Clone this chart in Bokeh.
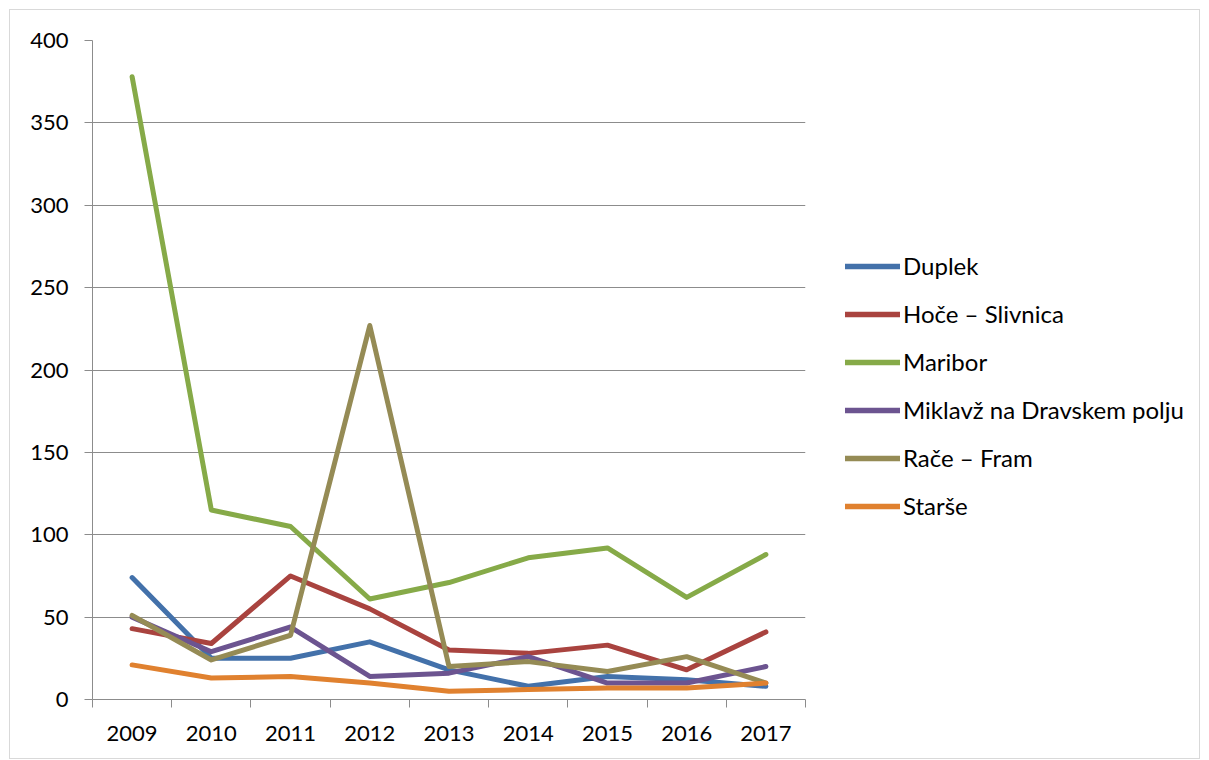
from bokeh.plotting import figure
from bokeh.models import Range1d, FixedTicker, Legend, LegendItem
from bokeh.layouts import row
from bokeh.embed import file_html
from bokeh.resources import INLINE

years = ["2009", "2010", "2011", "2012", "2013", "2014", "2015", "2016", "2017"]
duplek = [74, 25, 25, 35, 18, 8, 14, 12, 8]
hoce_slivnica = [43, 34, 75, 55, 30, 28, 33, 18, 41]
maribor = [378, 115, 105, 61, 71, 86, 92, 62, 88]
miklavz = [50, 29, 44, 14, 16, 26, 10, 10, 20]
race_fram = [51, 24, 39, 227, 20, 23, 17, 26, 10]
starse = [21, 13, 14, 10, 5, 6, 7, 7, 10]
y_ticks = [0, 50, 100, 150, 200, 250, 300, 350, 400]

series = [
    ("Duplek", duplek, "#4371aa"),
    ("Hoče – Slivnica", hoce_slivnica, "#a9433f"),
    ("Maribor", maribor, "#86aa48"),
    ("Miklavž na Dravskem polju", miklavz, "#6c5490"),
    ("Rače – Fram", race_fram, "#958b55"),
    ("Starše", starse, "#e0812f"),
]

H = 748
W1 = 820
W2 = 369
p = figure(width=W1, height=H, output_backend="svg", toolbar_location=None,
           x_range=Range1d(0, len(years)), y_range=Range1d(0, 400),
           min_border_left=82, min_border_top=30,
           min_border_right=25, min_border_bottom=H - 689)
p.outline_line_color = None
p.background_fill_color = "white"
p.border_fill_color = "white"

xs = [i + 0.5 for i in range(len(years))]
for name, vals, col in series:
    p.line(xs, vals, line_color=col, line_width=5, line_join="round", line_cap="round")

grid_col = "#8c8c8c"
# x axis
p.xaxis.ticker = FixedTicker(ticks=xs, minor_ticks=list(range(len(years) + 1)))
p.xaxis.major_label_overrides = {x: y for x, y in zip(xs, years)}
p.xaxis.major_tick_line_color = None
p.xaxis.major_tick_out = 0
p.xaxis.major_tick_in = 0
p.xaxis.minor_tick_line_color = grid_col
p.xaxis.minor_tick_out = 8
p.xaxis.minor_tick_in = 0
p.xaxis.axis_line_color = grid_col
p.xaxis.major_label_standoff = 18
p.xgrid.grid_line_color = None

# y axis
p.yaxis.ticker = FixedTicker(ticks=y_ticks)
p.yaxis.minor_tick_line_color = None
p.yaxis.major_tick_line_color = grid_col
p.yaxis.major_tick_out = 8
p.yaxis.major_tick_in = 0
p.yaxis.axis_line_color = grid_col
p.yaxis.major_label_standoff = 16
p.ygrid.grid_line_color = grid_col
p.ygrid.ticker = FixedTicker(ticks=y_ticks)

for ax in (p.xaxis, p.yaxis):
    ax.major_label_text_font = "Lato"
    ax.major_label_text_font_size = "22px"
    ax.major_label_text_color = "#000000"

# legend panel (its lines lie outside its visible range; only the legend shows)
q = figure(width=W2, height=H, output_backend="svg", toolbar_location=None,
           x_axis_location=None, y_axis_location=None,
           x_range=Range1d(0, 1), y_range=Range1d(-2, -1),
           min_border=0)
q.outline_line_color = None
q.grid.grid_line_color = None
q.background_fill_color = "white"
q.border_fill_color = "white"
items = []
for name, vals, col in series:
    r = q.line(xs, vals, line_color=col, line_width=5.5, line_cap="round")
    items.append(LegendItem(label=name, renderers=[r]))

legend = Legend(items=items, location=(15, 179), orientation="vertical",
                label_text_font="Lato", label_text_font_size="24px",
                label_text_color="#000000", glyph_width=55, glyph_height=24,
                label_height=24, spacing=19, padding=0, margin=0,
                label_standoff=3, border_line_color=None, background_fill_alpha=0)
q.add_layout(legend, "center")

layout = row(p, q, spacing=0)
layout.margin = (10, 0, 0, 10)
layout.styles = {"outline": "1px solid #d9d9d9"}

open("out.html", "w").write(file_html(layout, INLINE))
